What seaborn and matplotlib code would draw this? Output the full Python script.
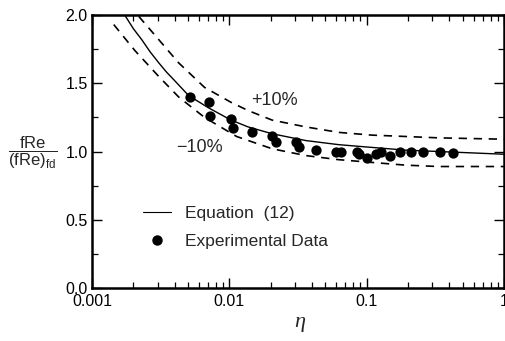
import numpy as np
import matplotlib
matplotlib.use("Agg")
import matplotlib.pyplot as plt
from matplotlib.lines import Line2D
from matplotlib.ticker import (FixedLocator, FixedFormatter, MultipleLocator,
                               LogLocator, NullFormatter)
import seaborn as sns

# Equation (12) curve
eq_x = [0.00173, 0.00200, 0.00230, 0.00265, 0.00306, 0.00350, 0.00399, 0.00505,
        0.00705, 0.0103, 0.0137, 0.0205, 0.0361, 0.0627, 0.109, 0.192, 0.333, 1.0]
eq_y = [2.00, 1.90, 1.82, 1.73, 1.65, 1.58, 1.52, 1.41,
        1.32, 1.23, 1.18, 1.13, 1.08, 1.05, 1.03, 1.01, 1.00, 0.98]

# +10% band
upper_x = [0.00219, 0.00306, 0.00427, 0.00659, 0.0103, 0.0137, 0.0205, 0.0361,
           0.0627, 0.109, 0.192, 0.333, 1.0]
upper_y = [1.99, 1.82, 1.65, 1.47, 1.36, 1.30, 1.23, 1.18,
           1.14, 1.12, 1.11, 1.10, 1.09]

# -10% band
lower_x = [0.00144, 0.00205, 0.00306, 0.00427, 0.00659, 0.0113, 0.0205, 0.0361,
           0.0627, 0.109, 0.192, 0.333, 1.0]
lower_y = [1.93, 1.74, 1.55, 1.40, 1.25, 1.11, 1.02, 0.97,
           0.94, 0.92, 0.90, 0.89, 0.89]

# experimental data
exp_x = [0.00513, 0.00716, 0.00729, 0.0102, 0.0107, 0.0147, 0.0205, 0.0219,
         0.0306, 0.0322, 0.0427, 0.0596, 0.0647, 0.0848, 0.088, 0.100, 0.116,
         0.128, 0.149, 0.176, 0.212, 0.259, 0.343, 0.427]
exp_y = [1.40, 1.36, 1.26, 1.24, 1.17, 1.14, 1.11, 1.07,
         1.07, 1.03, 1.01, 1.00, 1.00, 1.00, 0.98, 0.95, 0.98,
         1.00, 0.97, 1.00, 1.00, 1.00, 1.00, 0.99]

x_ticks = [0.001, 0.01, 0.1, 1]
x_tick_labels = ["0.001", "0.01", "0.1", "1"]
y_ticks = [0.0, 0.5, 1.0, 1.5, 2.0]

sns.set_style("ticks")
plt.rcParams["font.family"] = ["Liberation Sans", "DejaVu Sans"]
plt.rcParams["mathtext.fontset"] = "custom"
plt.rcParams["mathtext.rm"] = "Liberation Sans"

fig = plt.figure(figsize=(5.06, 3.41), dpi=100)
ax = fig.add_axes([92 / 506, 1 - 288 / 341, 412 / 506, 273 / 341])

sns.lineplot(x=eq_x, y=eq_y, ax=ax, color="black", lw=1.0)
sns.lineplot(x=upper_x, y=upper_y, ax=ax, color="black", lw=1.2,
             linestyle=(0, (5, 4)))
sns.lineplot(x=lower_x, y=lower_y, ax=ax, color="black", lw=1.2,
             linestyle=(0, (5, 4)))
sns.scatterplot(x=exp_x, y=exp_y, ax=ax, color="black", s=55,
                edgecolor="black", linewidth=0, zorder=3)

ax.set_xscale("log")
ax.set_xlim(0.001, 1)
ax.set_ylim(0, 2.0)

ax.xaxis.set_major_locator(FixedLocator(x_ticks))
ax.xaxis.set_major_formatter(FixedFormatter(x_tick_labels))
ax.xaxis.set_minor_locator(LogLocator(base=10, subs=np.arange(2, 10)))
ax.xaxis.set_minor_formatter(NullFormatter())
ax.yaxis.set_major_locator(FixedLocator(y_ticks))
ax.yaxis.set_major_formatter(FixedFormatter([f"{v:.1f}" for v in y_ticks]))
ax.yaxis.set_minor_locator(MultipleLocator(0.25))

ax.tick_params(which="both", direction="in", top=True, right=True,
               labelsize=11.5, color="black", labelcolor="black")
ax.tick_params(which="major", length=7, width=1.0, pad=3)
ax.tick_params(axis="x", which="major", pad=4)
ax.tick_params(which="minor", length=4, width=0.9)
for side in ax.spines.values():
    side.set_linewidth(1.8)
    side.set_color("black")

ax.set_xlabel("")
ax.set_ylabel("")
fig.text(300 / 506, 1 - 322 / 341, "η", family=["Liberation Serif"],
         style="italic", fontsize=16, ha="center", va="center")
fig.text(33 / 506, 1 - 153 / 341,
         r"$\dfrac{\mathrm{fRe}}{(\mathrm{fRe})_{\mathrm{fd}}}$",
         fontsize=12, ha="center", va="center")

ax.text(0.0144, 1.37, "+10%", fontsize=13, ha="left", va="center")
ax.text(0.00413, 1.03, "\u221210%", fontsize=13, ha="left", va="center")

handles = [Line2D([0], [0], color="black", lw=0.8),
           Line2D([0], [0], marker="o", color="black", lw=0,
                  markersize=6.5)]
ax.legend(handles, ["Equation  (12)", "Experimental Data"],
          loc="upper left", bbox_to_anchor=(0.125, 0.30), frameon=False,
          fontsize=12.5, handlelength=1.6, handletextpad=0.8,
          labelspacing=0.75, borderpad=0, borderaxespad=0)

fig.savefig("out.png", dpi=100)
